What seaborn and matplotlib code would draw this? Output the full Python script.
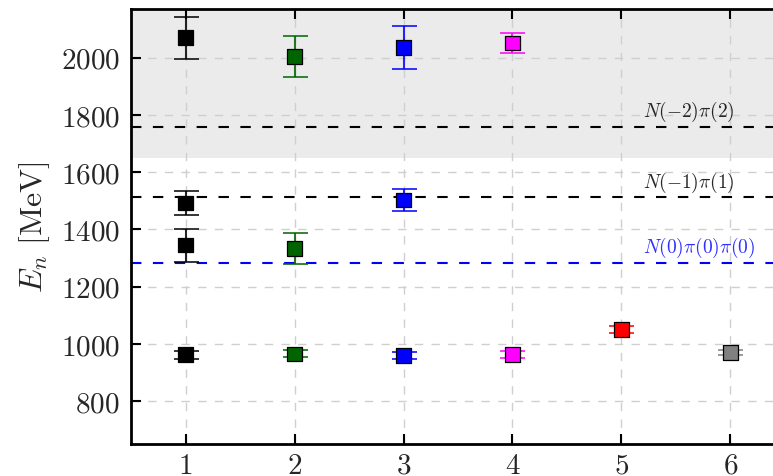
import numpy as np
import pandas as pd
import matplotlib
matplotlib.use("Agg")
import matplotlib.pyplot as plt
import seaborn as sns

# Energy levels per operator basis (MeV) with statistical errors
basis = [1, 1, 1, 1, 2, 2, 2, 3, 3, 3, 4, 4, 5, 6]
energy = [962, 1345, 1492, 2070, 965, 1333, 2005, 960, 1503, 2035, 962, 2051, 1051, 970]
error = [14, 58, 41, 73, 12, 53, 72, 12, 37, 74, 12, 35, 12, 10]
basis_colors = {1: "black", 2: "#006400", 3: "blue", 4: "magenta", 5: "red", 6: "gray"}

# Non-interacting thresholds
thresholds = [1758, 1512, 1283]
threshold_labels = [r"$N(-2)\pi(2)$", r"$N(-1)\pi(1)$", r"$N(0)\pi(0)\pi(0)$"]
threshold_colors = ["black", "black", "blue"]
label_colors = ["#262626", "#262626", "#3030ff"]
inelastic_start = 1650

x_ticks = [1, 2, 3, 4, 5, 6]
y_ticks = [800, 1000, 1200, 1400, 1600, 1800, 2000]

sns.set_theme(style="white")
plt.rcParams["font.family"] = ["cmr10"]
plt.rcParams["mathtext.fontset"] = "cm"
plt.rcParams["axes.unicode_minus"] = False
plt.rcParams["axes.formatter.use_mathtext"] = True

df = pd.DataFrame({"basis": basis, "energy": energy, "error": error})

fig = plt.figure(figsize=(7.73, 4.77), dpi=100)
ax = fig.add_axes([0.1695, 0.067, 0.846, 0.912])

ax.set_xlim(0.5, 6.5)
ax.set_ylim(650, 2170)

# shaded region above the inelastic threshold
ax.axhspan(inelastic_start, 2170, color="#ebebeb", zorder=0, lw=0)

ax.grid(True, color="#cfcfcf", linestyle=(0, (6, 6)), linewidth=1.0, zorder=1)
ax.set_axisbelow(True)

for y, lab, c, lc in zip(thresholds, threshold_labels, threshold_colors, label_colors):
    ax.axhline(y, color=c, linestyle=(0, (5, 5.5)), linewidth=1.5, zorder=2)
    ax.text(5.2, y + 55, lab, color=lc, fontsize=14, va="center", ha="left", zorder=3)

for b, sub in df.groupby("basis"):
    c = basis_colors[b]
    ax.errorbar(sub["basis"], sub["energy"], yerr=sub["error"], fmt="none",
                ecolor=c, elinewidth=1.5, capsize=9, capthick=1.3, alpha=0.85, zorder=4)

sns.scatterplot(data=df, x="basis", y="energy", hue="basis", palette=basis_colors,
                marker="s", s=110, edgecolor="black", linewidth=0.9, legend=False,
                ax=ax, zorder=5)

ax.set_xticks(x_ticks)
ax.set_yticks(y_ticks)
ax.tick_params(axis="both", direction="in", length=7, width=1.5, labelsize=21,
               top=True, bottom=True, left=True, right=False, color="black", pad=8)
ax.tick_params(axis="x", pad=6)
ax.set_xlabel("")
ax.set_ylabel(r"$E_n\ \mathrm{[MeV]}$", fontsize=23, labelpad=6)

for side in ["left", "bottom", "top", "right"]:
    ax.spines[side].set_linewidth(2.0)
    ax.spines[side].set_color("black")

fig.savefig("out.png", dpi=100)
